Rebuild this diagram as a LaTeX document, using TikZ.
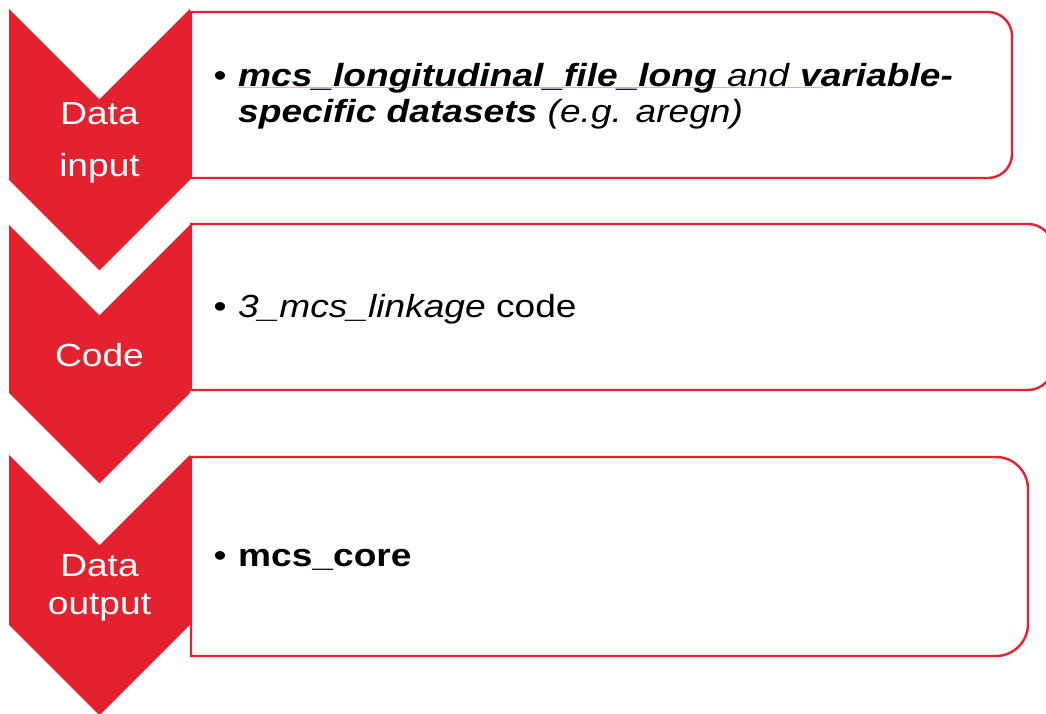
\documentclass[tikz,border=0pt]{standalone}
\usepackage{fontspec}
\setmainfont{Liberation Sans}[FakeStretch=1.16]
\definecolor{mred}{RGB}{227,33,47}
\definecolor{spellpink}{RGB}{250,165,175}
\begin{document}
\begin{tikzpicture}[x=1pt,y=1pt,
  chev/.style={fill=mred,draw=none},
  boxline/.style={draw=mred,line width=2.4pt,fill=white},
  lab/.style={text=white,font=\fontsize{32}{36}\selectfont,inner sep=0pt,anchor=base},
  body/.style={font=\fontsize{32}{36}\selectfont,inner sep=0pt,anchor=base west},
  bul/.style={font=\fontsize{32}{36}\selectfont,inner sep=0pt,anchor=base}]
\useasboundingbox (0,0) rectangle (1046,714);
\clip (0,0) rectangle (1046,714);
% boxes (square left corners, rounded right corners)
\draw[boxline] (191,702) -- (988,702) arc[start angle=90,end angle=0,radius=24]
  -- (1012,560) arc[start angle=0,end angle=-90,radius=24] -- (191,536) -- cycle;
\draw[boxline] (191,490) -- (1028,490) arc[start angle=90,end angle=0,radius=25]
  -- (1053,349) arc[start angle=0,end angle=-90,radius=25] -- (191,324) -- cycle;
\draw[boxline] (191,257) -- (996,257) arc[start angle=90,end angle=0,radius=32]
  -- (1028,90) arc[start angle=0,end angle=-90,radius=32] -- (191,58) -- cycle;
% chevrons
\fill[chev] (9,705) -- (99.5,614.5) -- (190,705) -- (190,534) -- (99.5,443.5) -- (9,534) -- cycle;
\fill[chev] (9,489) -- (99.5,398.5) -- (190,489) -- (190,321) -- (99.5,230.5) -- (9,321) -- cycle;
\fill[chev] (9,259) -- (99.5,168.5) -- (190,259) -- (190,89) -- (99.5,-1.5) -- (9,89) -- cycle;
% chevron labels
\node[lab] (t1a) at (99.5,589) {Data};
\node[lab] (t1b) at (99.5,537) {input};
\node[lab] (t2) at (99.5,347) {Code};
\node[lab] (t3a) at (99.5,137) {Data};
\node[lab] (t3b) at (99.5,99) {output};
% box texts
\draw[spellpink,line width=0.9pt] (238,626.3) -- (823,626.3);
\node[bul] (b1) at (220,627) {•};
\node[body] (l1a) at (238,627) {\textbf{\textit{mcs\_longitudinal\_file\_long}} \textit{and} \textbf{\textit{variable-}}};
\node[body] (l1b) at (238,591) {\textbf{\textit{specific datasets}} \textit{(e.g. aregn)}};
\node[bul] (b2) at (220,396) {•};
\node[body] (l2) at (238,396) {\textit{3\_mcs\_linkage} code};
\node[bul] (b3) at (220,147) {•};
\node[body] (l3) at (238,147) {\textbf{mcs\_core}};
\end{tikzpicture}
\end{document}
